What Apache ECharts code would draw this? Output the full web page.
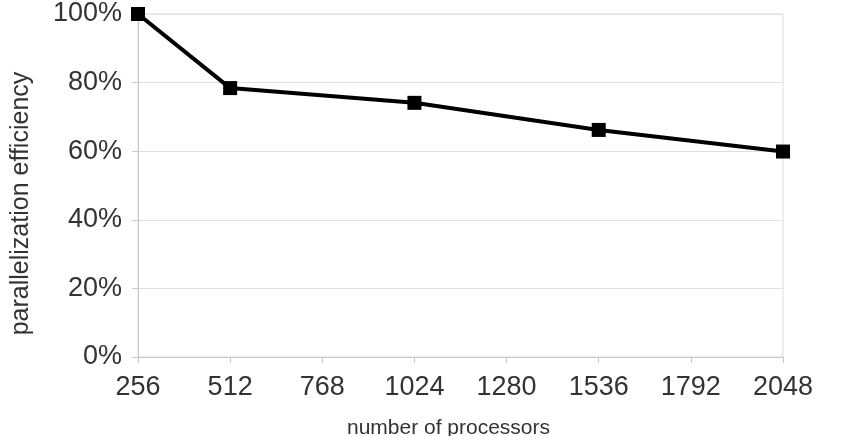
<!DOCTYPE html>
<html><head><meta charset="utf-8">
<script src="https://cdn.jsdelivr.net/npm/echarts@6/dist/echarts.min.js"></script>
<style>html,body{margin:0;padding:0;background:#fff}#c{width:842px;height:436px}</style>
</head><body><div id="c"></div>
<script>
const processors = [256, 512, 1024, 1536, 2048];
const efficiency = [100, 78.4, 74.1, 66.2, 59.9];
const xTicks = [256, 512, 768, 1024, 1280, 1536, 1792, 2048];
const yTicks = [0, 20, 40, 60, 80, 100];
const xTitle = 'number of processors';
const yTitle = 'parallelization efficiency';

const chart = echarts.init(document.getElementById('c'), null, {renderer: 'canvas'});
const font = 'Liberation Sans, Arial, sans-serif';
chart.setOption({
  animation: false,
  grid: {left: 138, right: 59, top: 14, bottom: 79, containLabel: false, outerBoundsMode: 'none',
         show: true, borderColor: '#dcdcdc', borderWidth: 1},
  xAxis: {
    type: 'value', min: xTicks[0], max: xTicks[xTicks.length - 1], interval: xTicks[1] - xTicks[0],
    name: xTitle, nameLocation: 'middle', nameGap: 61,
    nameTextStyle: {fontFamily: font, fontSize: 21, color: '#333', padding: [0, 24, 0, 0]},
    axisLine: {show: true, lineStyle: {color: '#c8c8c8', width: 1}},
    axisTick: {show: true, length: 6, lineStyle: {color: '#c8c8c8'}},
    axisLabel: {fontFamily: font, fontSize: 27, color: '#333', margin: 17, formatter: v => String(v)},
    splitLine: {show: false}
  },
  yAxis: {
    type: 'value', min: yTicks[0], max: yTicks[yTicks.length - 1], interval: yTicks[1] - yTicks[0],
    name: yTitle, nameLocation: 'middle', nameGap: 104, nameRotate: 90,
    nameTextStyle: {fontFamily: font, fontSize: 25, color: '#333', padding: [0, 36, 0, 0]},
    axisLine: {show: true, lineStyle: {color: '#c8c8c8', width: 1}},
    axisTick: {show: true, length: 6, lineStyle: {color: '#c8c8c8'}},
    axisLabel: {fontFamily: font, fontSize: 27, color: '#333', margin: 16, padding: [8, 0, 0, 0], formatter: '{value}%'},
    splitLine: {show: true, lineStyle: {color: '#e0e0e0', width: 1}}
  },
  series: [{
    type: 'line',
    data: processors.map((p, i) => [p, efficiency[i]]),
    symbol: 'rect', symbolSize: 14,
    lineStyle: {color: '#000', width: 4},
    itemStyle: {color: '#000'}
  }]
});
</script></body></html>
